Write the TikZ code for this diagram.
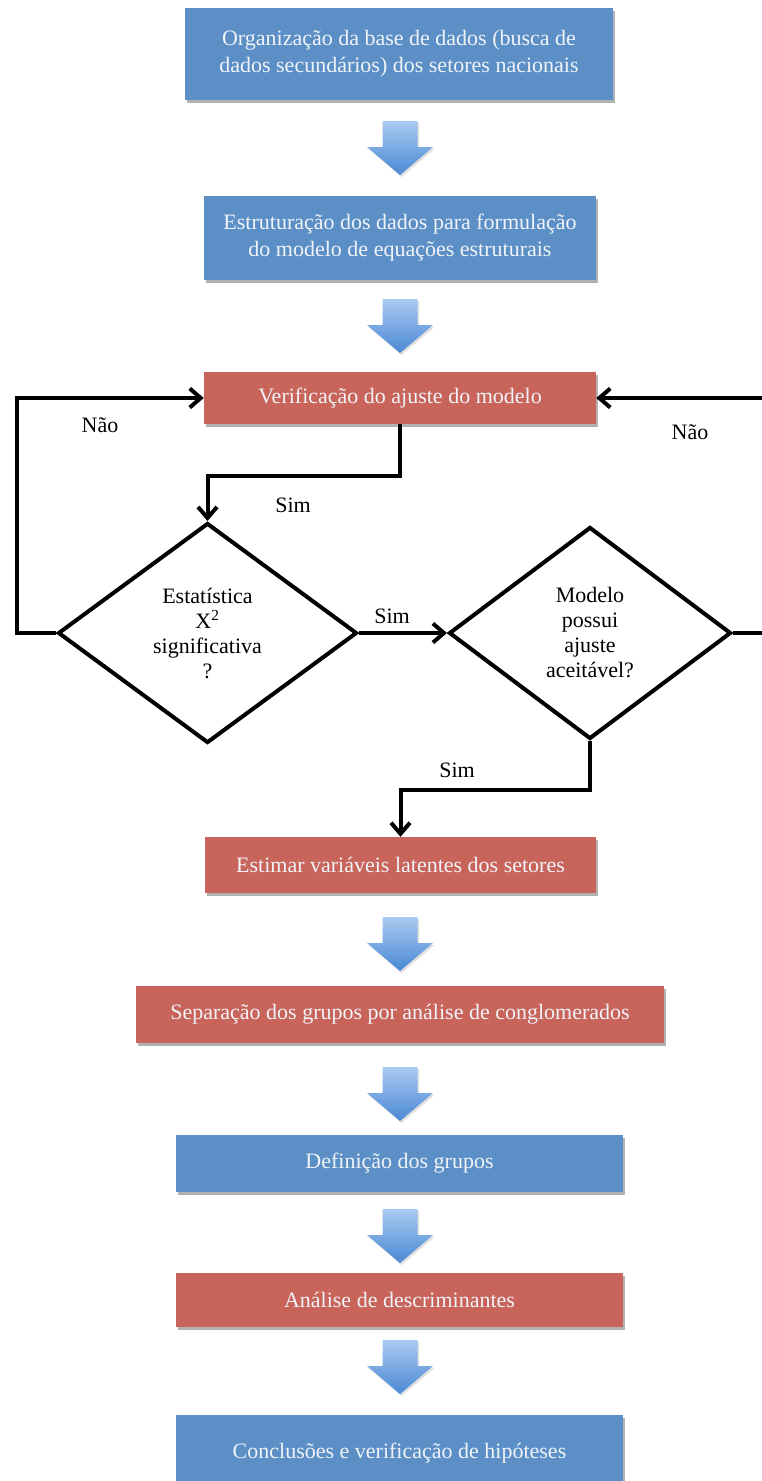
\documentclass[tikz,border=0pt]{standalone}
\usepackage{fontspec}
\setmainfont{Liberation Serif}
\usetikzlibrary{shapes.geometric,arrows.meta,shadows}

\definecolor{boxblue}{HTML}{5B8FC6}
\definecolor{boxred}{HTML}{C9645B}
\definecolor{boxtext}{HTML}{F0F3F8}
\definecolor{arrowtop}{HTML}{AACAF0}
\definecolor{arrowbot}{HTML}{4A88D6}

\tikzset{
  stepbox/.style={rectangle, inner sep=0pt, align=center, text=boxtext,
    font=\fontsize{22}{27}\selectfont,
    drop shadow={shadow xshift=1.5pt, shadow yshift=-2.5pt, opacity=0.3, fill=black}},
  bluebox/.style={stepbox, fill=boxblue},
  redbox/.style={stepbox, fill=boxred},
  decision/.style={diamond, draw=black, line width=4pt, fill=white, inner sep=0pt,
    align=center, font=\fontsize{22}{25}\selectfont},
  conn/.style={draw=black, line width=4pt,
    -{Straight Barb[length=11pt,width=19pt,line width=4pt]}},
  lbl/.style={font=\fontsize{22}{25}\selectfont, inner sep=0pt}
}

% shaded block arrow pointing down; #1 = name, #2 = centre x, #3 = top y
\newcommand\flowarrow[3]{%
  \coordinate (#1) at (#2,#3);
  \fill[black, opacity=0.12]
    ([xshift=1.5pt,yshift=-2pt]#1) ++(-17.5,0) -- ++(35,0) -- ++(0,26) -- ++(15.5,0)
    -- ++(-33,28) -- ++(-33,-28) -- ++(15.5,0) -- cycle;
  \shade[top color=arrowtop, bottom color=arrowbot]
    (#1) ++(-17.5,0) -- ++(35,0) -- ++(0,26) -- ++(15.5,0)
    -- ++(-33,28) -- ++(-33,-28) -- ++(15.5,0) -- cycle;
}

\begin{document}
\begin{tikzpicture}[x=1pt,y=-1pt]
\useasboundingbox (0,0) rectangle (762,1481);

% process boxes
\node[bluebox, minimum width=428pt, minimum height=92pt] (b1) at (399,54)
  {Organização da base de dados (busca de\\dados secundários) dos setores nacionais};
\node[bluebox, minimum width=392pt, minimum height=84pt] (b2) at (400,238)
  {Estruturação dos dados para formulação\\do modelo de equações estruturais};
\node[redbox, minimum width=392pt, minimum height=52pt] (b3) at (400,398)
  {Verificação do ajuste do modelo};
\node[redbox, minimum width=391pt, minimum height=56pt] (b4) at (400.5,865)
  {Estimar variáveis latentes dos setores};
\node[redbox, minimum width=528pt, minimum height=57pt] (b5) at (400,1014.5)
  {Separação dos grupos por análise de conglomerados};
\node[bluebox, minimum width=447pt, minimum height=57pt] (b6) at (399.5,1163.5)
  {Definição dos grupos};
\node[redbox, minimum width=447pt, minimum height=54pt] (b7) at (399.5,1300)
  {Análise de descriminantes};
\node[bluebox, minimum width=447pt, minimum height=76pt] (b8) at (399.5,1453)
  {Conclusões e verificação de hipóteses};

% decisions
\node[decision, minimum width=299pt, minimum height=220pt] (d1) at (207.5,633)
  {Estatística\\X\textsuperscript{2}\\significativa\\?};
\node[decision, minimum width=282pt, minimum height=212pt] (d2) at (590,633)
  {Modelo\\possui\\ajuste\\aceitável?};

% block arrows between sequential steps
\flowarrow{a1}{400}{121}
\flowarrow{a2}{400}{299}
\flowarrow{a3}{400}{917}
\flowarrow{a4}{400}{1067}
\flowarrow{a5}{400}{1209}
\flowarrow{a6}{400}{1340}

% bend points of the loop connectors
\coordinate (lt) at (17,633);
\coordinate (rt) at (770,633);
\coordinate (k1) at (400,476);
\coordinate (k2) at (590,790);

\draw[conn] (d1.west) -- (lt) |- (b3.west);
\draw[conn] (d2.east) -- (rt) |- (b3.east);
\draw[conn] (b3.south) -- (k1) -| (d1.north);
\draw[conn] (d1.east) -- (d2.west);
\draw[conn] (d2.south) -- (k2) -| (b4.north);

% branch labels
\node[lbl] (n1) at (100,425) {Não};
\node[lbl] (n2) at (690,432) {Não};
\node[lbl] (s1) at (293,505) {Sim};
\node[lbl] (s2) at (392,616) {Sim};
\node[lbl] (s3) at (457,770) {Sim};
\end{tikzpicture}
\end{document}
